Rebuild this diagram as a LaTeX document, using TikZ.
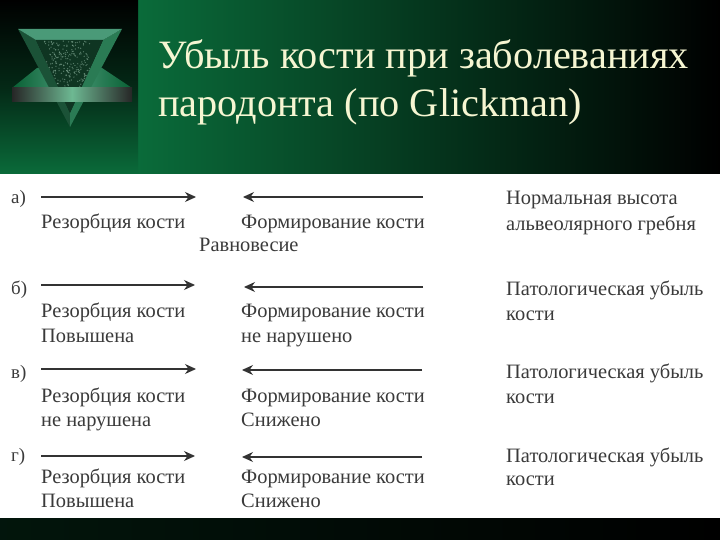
\documentclass[tikz,border=0pt]{standalone}
\usepackage{fontspec}
\setmainfont{Liberation Serif}
\usetikzlibrary{arrows.meta}
\definecolor{slidegreen}{HTML}{0A6B3A}
\definecolor{bandlight}{HTML}{6DB892}
\definecolor{facettop}{HTML}{4A9A78}
\definecolor{facetleft}{HTML}{1B5237}
\definecolor{facetright}{HTML}{2A7B54}
\definecolor{marbledark}{HTML}{0F3522}
\definecolor{marblelight}{HTML}{86AD98}
\definecolor{scantext}{HTML}{3A3A3A}
\definecolor{titlecream}{HTML}{F6F6D2}
\tikzset{
  titletext/.style={anchor=base west,text=titlecream,font=\fontsize{40.4}{40}\selectfont,inner sep=0pt},
  scanlabel/.style={anchor=base west,text=scantext,font=\fontsize{20.5}{20}\selectfont,inner sep=0pt},
  rowmark/.style={scanlabel,font=\fontsize{19}{19}\selectfont},
  rowarrow/.style={draw=black!80,line width=1.2pt,-{Stealth[length=11pt,width=10pt,inset=3.5pt]}},
}
\begin{document}
\begin{tikzpicture}[x=1bp,y=-1bp]
  \useasboundingbox (0,0) rectangle (720,540);
  % backgrounds
  \shade[left color=slidegreen,right color=black] (138,0) rectangle (720,174);
  \shade[top color=black,bottom color=slidegreen,middle color=black!62!slidegreen] (0,0) rectangle (138,174);
  \fill[white] (0,174) rectangle (720,518);
  \shade[left color=black!80!slidegreen,right color=black] (0,518) rectangle (720,540);
  % emblem
  \shade[left color=slidegreen!90!black,right color=facettop] (12,88) -- (37,68) -- (70,68) -- (70,88) -- cycle;
  \shade[left color=facettop,right color=slidegreen!90!black] (70,88) -- (70,68) -- (102,68) -- (132,88) -- cycle;
  \fill[facetleft] (18,29) -- (36,40) -- (70,113) -- (70,127) -- cycle;
  \fill[facetright] (122,29) -- (103,40) -- (70,113) -- (70,127) -- cycle;
  \fill[facettop] (18,29) -- (122,29) -- (103,40) -- (36,40) -- cycle;
  \fill[marbledark] (36,40) -- (103,40) -- (70,113) -- cycle;
  \begin{scope}
    \clip (36,40) -- (103,40) -- (70,113) -- cycle;
    \pgfmathsetseed{11}
    \foreach \i in {1,...,280}{
      \fill[marblelight,opacity=0.6] ({44+46*rnd},{41+58*rnd}) circle (0.7);
    }
  \end{scope}
  \shade[left color=black!85,right color=black!85,middle color=bandlight] (12,88) rectangle (132,102);
  % title
  \node[titletext] (titleone) at (158,69) {Убыль кости при заболеваниях};
  \node[titletext] (titletwo) at (158,117) {пародонта (по Glickman)};
  % row a
  \node[rowmark] (marka) at (11,204) {а)};
  \coordinate (aleft) at (41,197);
  \coordinate (aright) at (196,197);
  \coordinate (bonea) at (423,197);
  \coordinate (formHeada) at (243,197);
  \draw[rowarrow] (aleft) -- (aright);
  \draw[rowarrow] (bonea) -- (formHeada);
  \node[scanlabel] (resa) at (41,229) {Резорбция кости};
  \node[scanlabel] (forma) at (241,229) {Формирование кости};
  \node[scanlabel] (balance) at (199,252) {Равновесие};
  \node[scanlabel] (resulta) at (506,205) {Нормальная высота};
  \node[scanlabel] (resultaa) at (506,231) {альвеолярного гребня};
  % row b
  \node[rowmark] (markb) at (11,294) {б)};
  \coordinate (bleft) at (41,285);
  \coordinate (bright) at (195,285);
  \coordinate (boneb) at (423,287);
  \coordinate (formHeadb) at (244,287);
  \draw[rowarrow] (bleft) -- (bright);
  \draw[rowarrow] (boneb) -- (formHeadb);
  \node[scanlabel] (resb) at (41,317) {Резорбция кости};
  \node[scanlabel] (resbb) at (41,342) {Повышена};
  \node[scanlabel] (formb) at (241,317) {Формирование кости};
  \node[scanlabel] (formbb) at (241,342) {не нарушено};
  \node[scanlabel] (resultb) at (506,295) {Патологическая убыль};
  \node[scanlabel] (resultbb) at (506,320) {кости};
  % row c
  \node[rowmark] (markc) at (11,378) {в)};
  \coordinate (cleft) at (41,369);
  \coordinate (cright) at (196,369);
  \coordinate (bonec) at (422,370);
  \coordinate (formHeadc) at (242,370);
  \draw[rowarrow] (cleft) -- (cright);
  \draw[rowarrow] (bonec) -- (formHeadc);
  \node[scanlabel] (resc) at (41,402) {Резорбция кости};
  \node[scanlabel] (rescc) at (41,426) {не нарушена};
  \node[scanlabel] (formc) at (241,402) {Формирование кости};
  \node[scanlabel] (formcc) at (241,426) {Снижено};
  \node[scanlabel] (resultc) at (506,378) {Патологическая убыль};
  \node[scanlabel] (resultcc) at (506,403) {кости};
  % row d
  \node[rowmark] (markd) at (11,461) {г)};
  \coordinate (dleft) at (41,456);
  \coordinate (dright) at (195,456);
  \coordinate (boned) at (422,457);
  \coordinate (formHeadd) at (242,457);
  \draw[rowarrow] (dleft) -- (dright);
  \draw[rowarrow] (boned) -- (formHeadd);
  \node[scanlabel] (resd) at (41,483) {Резорбция кости};
  \node[scanlabel] (resdd) at (41,507) {Повышена};
  \node[scanlabel] (formd) at (241,483) {Формирование кости};
  \node[scanlabel] (formdd) at (241,507) {Снижено};
  \node[scanlabel] (resultd) at (506,462) {Патологическая убыль};
  \node[scanlabel] (resultdd) at (506,485) {кости};
\end{tikzpicture}
\end{document}
